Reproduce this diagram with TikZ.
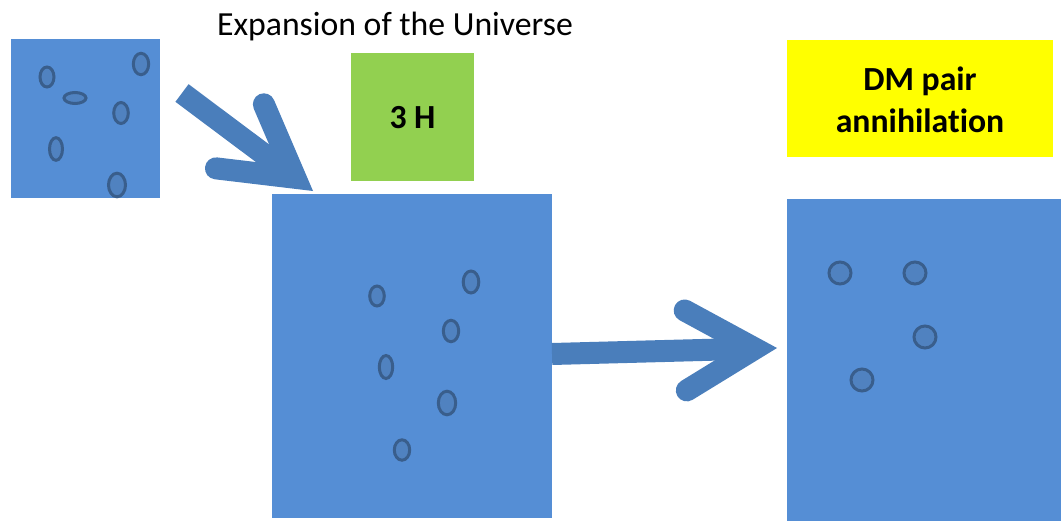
\documentclass[tikz,border=0pt]{standalone}
\usepackage{fontspec}
\setmainfont{Carlito}[Ligatures=NoCommon]
\usetikzlibrary{calc,fit}

% one drawing unit = one pixel of the 1061 x 521 canvas
\newcommand{\pxl}{0.75pt}

\definecolor{boxblue}{RGB}{85,142,213}
\definecolor{arrowblue}{RGB}{74,126,187}
\definecolor{dotfill}{RGB}{80,130,192}
\definecolor{dotline}{RGB}{57,94,140}
\definecolor{hubblegreen}{RGB}{146,208,80}
\definecolor{annyellow}{RGB}{255,255,0}

% thick open arrow: butt-ended shaft plus a mitred head with round barb ends
\newcommand{\fatarrow}[3]{%
  \coordinate (#3-v) at ($(#2)!22*\pxl!(#1)$);
  \draw[arrowbody, line cap=butt] (#1) -- (#3-v);
  \draw[arrowbody, line cap=round, line join=miter]
    ($(#3-v)!80*\pxl!30:(#1)$) -- (#3-v) -- ($(#3-v)!80*\pxl!-30:(#1)$);
}

\begin{document}
\begin{tikzpicture}[x=0.75pt, y=-0.75pt,
  bluebox/.style={fill=boxblue, draw=none, inner sep=0pt, outer sep=0pt},
  colorbox/.style={draw=none, inner sep=0pt, outer sep=0pt},
  labeltext/.style={inner sep=0pt, align=center,
    font=\fontsize{25.3pt}{31.5pt}\selectfont\bfseries},
  arrowbody/.style={draw=arrowblue, line width=22*\pxl},
  particle/.style={fill=dotfill, draw=dotline, line width=3*\pxl},
]
\useasboundingbox (0,0) rectangle (1061,521);

% title
\node[anchor=base, inner sep=0pt, font=\fontsize{25.3pt}{30pt}\selectfont]
  (title) at (395,36) {Expansion of the Universe};

% volumes of the universe
\node[bluebox, fit={(11,39) (160,198)}] (early) {};
\node[bluebox, fit={(272,194) (552,518)}] (expanded) {};
\node[bluebox, fit={(787,199) (1061,521)}] (annihilated) {};

% rate labels
\node[colorbox, fill=hubblegreen, fit={(351,53) (474,181)}] (hubble) {};
\node[labeltext] (hubble-text) at ($(hubble.center)+(0,1)$) {3 H};
\node[colorbox, fill=annyellow, fit={(787,40) (1053,157)}] (pairs) {};
\node[labeltext] (pairs-text) at ($(pairs.center)+(0,1)$) {DM pair\\annihilation};

% particles in the early volume
\draw[particle] (47,77) ellipse [x radius=7*\pxl, y radius=10*\pxl];
\draw[particle] (141,64) ellipse [x radius=7.7*\pxl, y radius=10.7*\pxl];
\draw[particle] (75,98) ellipse [x radius=11*\pxl, y radius=5.5*\pxl];
\draw[particle] (121,113) ellipse [x radius=7.3*\pxl, y radius=10.5*\pxl];
\draw[particle] (56,149) ellipse [x radius=6.5*\pxl, y radius=11.3*\pxl];
\draw[particle] (117,185) ellipse [x radius=8.5*\pxl, y radius=11.8*\pxl];

% particles in the expanded volume
\draw[particle] (377,296) ellipse [x radius=7.3*\pxl, y radius=10*\pxl];
\draw[particle] (471,282) ellipse [x radius=7.8*\pxl, y radius=11*\pxl];
\draw[particle] (451,331) ellipse [x radius=7.7*\pxl, y radius=10.7*\pxl];
\draw[particle] (386,367) ellipse [x radius=6.7*\pxl, y radius=11.5*\pxl];
\draw[particle] (447,403) ellipse [x radius=8.7*\pxl, y radius=11.8*\pxl];
\draw[particle] (402,450) ellipse [x radius=7.7*\pxl, y radius=10.2*\pxl];

% survivors after annihilation
\draw[particle] (840,273) circle [radius=11*\pxl];
\draw[particle] (915,273) circle [radius=11*\pxl];
\draw[particle] (925,337) circle [radius=11*\pxl];
\draw[particle] (862,380) circle [radius=11*\pxl];

% arrows between the stages
\coordinate (expand-tail) at (182,93);
\coordinate (expand-tip) at (313,191);
\fatarrow{expand-tail}{expand-tip}{expand}

\coordinate (annih-tail) at ($(expanded.north east)+(0,160)$);
\coordinate (annih-tip) at (777,348);
\fatarrow{annih-tail}{annih-tip}{annih}
\end{tikzpicture}
\end{document}
